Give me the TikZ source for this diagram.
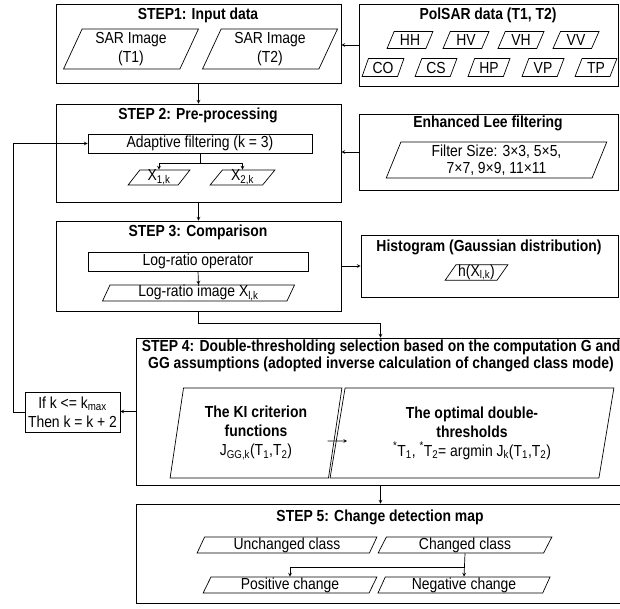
\documentclass[tikz,border=0pt]{standalone}
\usepackage{fontspec}
\setmainfont[FakeStretch=0.87]{Liberation Sans}
\usetikzlibrary{arrows,positioning,shapes.geometric}

\begin{document}
\begin{tikzpicture}[x=1pt,y=-1pt,>=stealth,line width=0.7pt]
  \tikzstyle{every node} = [font=\fontsize{16}{19}\selectfont,inner sep=0pt]
  \tikzstyle{stepbox} = [draw,rectangle]
  \tikzstyle{procbox} = [draw,rectangle]
  \tikzstyle{databox} = [draw,trapezium,trapezium left angle=68,trapezium right angle=112,
                         trapezium stretches=true,align=center]
  \tikzstyle{steptitle} = [font=\fontsize{16}{19}\selectfont\bfseries,align=center]

  \useasboundingbox (0,0) rectangle (620,608);

  % step 1 and the input data
  \node[stepbox,minimum width=285pt,minimum height=79pt] (stepone) at (198.5,43.5) {};
  \node[steptitle] (titleone) at (198,15) {STEP1: Input data};
  \node[databox,minimum width=136pt,minimum height=40pt] (sarone) at (131,49) {SAR Image\\(T1)};
  \node[databox,minimum width=136pt,minimum height=40pt] (sartwo) at (270,49) {SAR Image\\(T2)};

  \node[stepbox,minimum width=259pt,minimum height=82pt] (polsar) at (488.5,45) {};
  \node[steptitle] (titlepol) at (488,15) {PolSAR data (T1, T2)};
  \node[databox,minimum width=46pt,minimum height=17pt] (hh) at (410,40) {HH};
  \node[databox,minimum width=46pt,minimum height=17pt] (hv) at (466,40) {HV};
  \node[databox,minimum width=46pt,minimum height=17pt] (vh) at (521,40) {VH};
  \node[databox,minimum width=46pt,minimum height=17pt] (vv) at (576,40) {VV};
  \node[databox,minimum width=42pt,minimum height=18pt] (co) at (383,67.5) {CO};
  \node[databox,minimum width=42pt,minimum height=18pt] (cs) at (436,67.5) {CS};
  \node[databox,minimum width=42pt,minimum height=18pt] (hp) at (489,67.5) {HP};
  \node[databox,minimum width=42pt,minimum height=18pt] (vp) at (543,67.5) {VP};
  \node[databox,minimum width=42pt,minimum height=18pt] (tp) at (596,67.5) {TP};

  % step 2
  \node[stepbox,minimum width=285pt,minimum height=98pt] (steptwo) at (198.5,153) {};
  \node[steptitle] (titletwo) at (198,115) {STEP 2: Pre-processing};
  \node[procbox,minimum width=224pt,minimum height=19pt] (adapt) at (200,143.5) {Adaptive filtering (k = 3)};
  \node[databox,minimum width=62pt,minimum height=15pt,trapezium left angle=65,trapezium right angle=115] (xone) at (159,177.5) {X\textsubscript{1,k}};
  \node[databox,minimum width=65pt,minimum height=15pt,trapezium left angle=65,trapezium right angle=115] (xtwo) at (242.5,177.5) {X\textsubscript{2,k}};
  \coordinate (fork) at (200,163);

  \node[stepbox,minimum width=259pt,minimum height=76pt] (lee) at (488.5,152) {};
  \node[steptitle] (titlelee) at (488,123) {Enhanced Lee filtering};
  \node[databox,minimum width=221pt,minimum height=36pt,trapezium left angle=72,trapezium right angle=108,
        font=\fontsize{16}{17}\selectfont] (leesize) at (496.5,160) {Filter Size: 3×3, 5×5,\\7×7, 9×9, 11×11};

  % step 3
  \node[stepbox,minimum width=285pt,minimum height=90pt] (stepthree) at (198.5,266) {};
  \node[steptitle] (titlethree) at (198,232) {STEP 3: Comparison};
  \node[procbox,minimum width=220pt,minimum height=19pt] (logop) at (198,261.5) {Log-ratio operator};
  \node[databox,minimum width=192pt,minimum height=16pt,trapezium left angle=72,trapezium right angle=108] (logim) at (198.5,293) {Log-ratio image X\textsubscript{l,k}};
  \coordinate (bend) at (198.5,323);

  \node[stepbox,minimum width=257pt,minimum height=62pt] (hist) at (489.5,266) {};
  \node[steptitle] (titlehist) at (489,247) {Histogram (Gaussian distribution)};
  \node[databox,minimum width=63pt,minimum height=15pt,trapezium left angle=58,trapezium right angle=122] (hx) at (476.5,272.5) {h(X\textsubscript{l,k})};

  % step 4
  \node[stepbox,minimum width=489pt,minimum height=147pt] (stepfour) at (380.5,411.5) {};
  \node[steptitle,font=\fontsize{16}{17}\selectfont\bfseries] (titlefour) at (381,356)
    {STEP 4: Double-thresholding selection based on the computation G and\\
     GG assumptions (adopted inverse calculation of changed class mode)};
  \node[databox,minimum width=172pt,minimum height=90pt,trapezium left angle=80,trapezium right angle=100] (ki) at (256,433)
    {\textbf{The KI criterion}\\\textbf{functions}\\J\textsubscript{GG,k}(T\textsubscript{1},T\textsubscript{2})};
  \node[databox,minimum width=284pt,minimum height=90pt,trapezium left angle=80,trapezium right angle=100] (opt) at (472,433)
    {\textbf{The optimal double-}\\\textbf{thresholds}\\\textsuperscript{*}T\textsubscript{1}, \textsuperscript{*}T\textsubscript{2}= argmin J\textsubscript{k}(T\textsubscript{1},T\textsubscript{2})};

  \node[procbox,minimum width=95pt,minimum height=40pt,align=center] (ifk) at (72.5,412) {If k <= k\textsubscript{max}\\Then k = k + 2};
  \coordinate (loop) at (13,143.5);

  % step 5
  \node[stepbox,minimum width=489pt,minimum height=99pt] (stepfive) at (380.5,553.5) {};
  \node[steptitle] (titlefive) at (380,517) {STEP 5: Change detection map};
  \node[databox,minimum width=180pt,minimum height=16pt,trapezium left angle=72,trapezium right angle=108] (unch) at (287,545) {Unchanged class};
  \node[databox,minimum width=174pt,minimum height=16pt,trapezium left angle=72,trapezium right angle=108] (chg) at (465,545) {Changed class};
  \node[databox,minimum width=174pt,minimum height=16pt,trapezium left angle=72,trapezium right angle=108] (pos) at (290,585) {Positive change};
  \node[databox,minimum width=172pt,minimum height=16pt,trapezium left angle=72,trapezium right angle=108] (neg) at (464,585) {Negative change};
  \coordinate (split) at (465,567);

  % connectors
  \draw[->] (polsar.west) -- (polsar.west -| stepone.east);
  \draw[->] (stepone.south) -- (steptwo.north);
  \draw[->] (lee.west) -- (lee.west -| steptwo.east);
  \draw (adapt.south) -- (fork);
  \draw[->] (fork) -| (xone.north);
  \draw[->] (fork) -| (xtwo.north);
  \draw[->] (steptwo.south) -- (stepthree.north);
  \draw[->] (logop.south) -- (logim.north);
  \draw[->] (stepthree.east) -- (stepthree.east -| hist.west);
  \draw[->] (stepthree.south) -- (bend) -| (stepfour.north);
  \draw[->] ([xshift=-8pt,yshift=-8pt]ki.east) -- ([xshift=10pt,yshift=-8pt]opt.west);
  \draw[->] (stepfour.west) -- (stepfour.west -| ifk.east);
  \draw[->] (ifk.west) -| (loop) -- (adapt.west);
  \draw[->] (stepfour.south) -- (stepfive.north);
  \draw[->] (chg.south) -- (neg.north);
  \draw[->] (split) -| (pos.north);

\end{tikzpicture}
\end{document}
